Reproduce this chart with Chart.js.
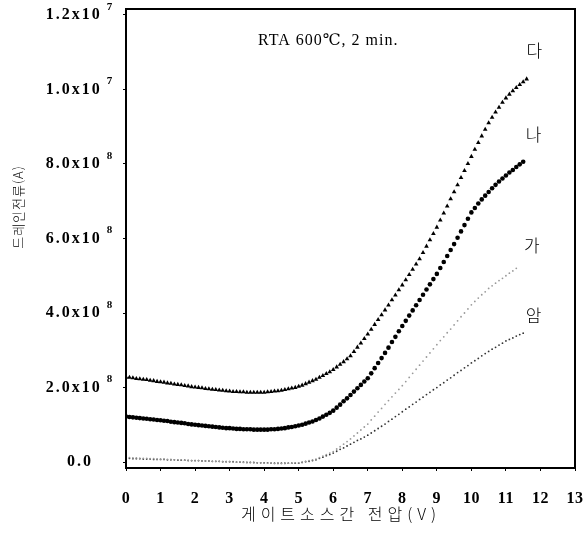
<!DOCTYPE html>
<html>
<head>
<meta charset="utf-8">
<script src="https://cdn.jsdelivr.net/npm/chart.js@4"></script>
<style>
html, body { margin: 0; padding: 0; background: #fff; }
</style>
</head>
<body>
<canvas id="drainChart" width="583" height="540"></canvas>
<script>
// gate-source voltage (V)
const gateVoltage = [
  0.0, 0.1, 0.2, 0.3, 0.4, 0.5, 0.6, 0.7, 0.8, 0.9,
  1.0, 1.1, 1.2, 1.3, 1.4, 1.5, 1.6, 1.7, 1.8, 1.9,
  2.0, 2.1, 2.2, 2.3, 2.4, 2.5, 2.6, 2.7, 2.8, 2.9,
  3.0, 3.1, 3.2, 3.3, 3.4, 3.5, 3.6, 3.7, 3.8, 3.9,
  4.0, 4.1, 4.2, 4.3, 4.4, 4.5, 4.6, 4.7, 4.8, 4.9,
  5.0, 5.1, 5.2, 5.3, 5.4, 5.5, 5.6, 5.7, 5.8, 5.9,
  6.0, 6.1, 6.2, 6.3, 6.4, 6.5, 6.6, 6.7, 6.8, 6.9,
  7.0, 7.1, 7.2, 7.3, 7.4, 7.5, 7.6, 7.7, 7.8, 7.9,
  8.0, 8.1, 8.2, 8.3, 8.4, 8.5, 8.6, 8.7, 8.8, 8.9,
  9.0, 9.1, 9.2, 9.3, 9.4, 9.5, 9.6, 9.7, 9.8, 9.9,
  10.0, 10.1, 10.2, 10.3, 10.4, 10.5, 10.6, 10.7, 10.8, 10.9,
  11.0, 11.1, 11.2, 11.3, 11.4, 11.5, 11.6
];

// drain current, units of 10^-8 A
const currentDa = [
  2.28, 2.27, 2.26, 2.24, 2.23, 2.22, 2.21, 2.19, 2.18, 2.16,
  2.15, 2.14, 2.12, 2.11, 2.09, 2.08, 2.07, 2.05, 2.04, 2.02,
  2.01, 2.00, 1.99, 1.97, 1.96, 1.95, 1.94, 1.93, 1.92, 1.91,
  1.90, 1.89, 1.89, 1.88, 1.88, 1.87, 1.87, 1.87, 1.87, 1.87,
  1.87, 1.88, 1.89, 1.90, 1.91, 1.92, 1.94, 1.96, 1.98, 2.00,
  2.03, 2.06, 2.10, 2.14, 2.18, 2.22, 2.27, 2.32, 2.37, 2.42,
  2.48, 2.55, 2.62, 2.69, 2.77, 2.85, 2.96, 3.08, 3.19, 3.31,
  3.43, 3.56, 3.69, 3.82, 3.95, 4.08, 4.21, 4.35, 4.48, 4.62,
  4.75, 4.89, 5.03, 5.17, 5.31, 5.45, 5.62, 5.79, 5.96, 6.13,
  6.30, 6.49, 6.68, 6.87, 7.06, 7.25, 7.44, 7.63, 7.82, 8.01,
  8.20, 8.39, 8.57, 8.75, 8.93, 9.10, 9.25, 9.39, 9.52, 9.65,
  9.77, 9.87, 9.96, 10.05, 10.13, 10.20, 10.28
];
const currentNa = [
  1.22, 1.21, 1.20, 1.19, 1.18, 1.17, 1.16, 1.15, 1.14, 1.13,
  1.12, 1.11, 1.10, 1.08, 1.07, 1.06, 1.05, 1.04, 1.02, 1.01,
  1.00, 0.99, 0.98, 0.97, 0.96, 0.95, 0.94, 0.93, 0.92, 0.91,
  0.91, 0.90, 0.89, 0.89, 0.88, 0.88, 0.88, 0.87, 0.87, 0.87,
  0.87, 0.87, 0.88, 0.88, 0.89, 0.90, 0.91, 0.93, 0.94, 0.96,
  0.98, 1.00, 1.03, 1.06, 1.09, 1.13, 1.17, 1.22, 1.27, 1.32,
  1.38, 1.46, 1.54, 1.63, 1.71, 1.80, 1.89, 1.98, 2.07, 2.16,
  2.25, 2.38, 2.52, 2.66, 2.79, 2.93, 3.07, 3.22, 3.36, 3.51,
  3.65, 3.79, 3.93, 4.07, 4.21, 4.35, 4.49, 4.63, 4.77, 4.91,
  5.05, 5.21, 5.37, 5.53, 5.69, 5.85, 6.02, 6.19, 6.36, 6.53,
  6.70, 6.82, 6.94, 7.05, 7.15, 7.25, 7.35, 7.44, 7.53, 7.61,
  7.69, 7.77, 7.84, 7.92, 7.99, 8.06
];
const currentGa = [
  0.12, 0.12, 0.11, 0.11, 0.10, 0.10, 0.10, 0.09, 0.09, 0.08,
  0.08, 0.08, 0.07, 0.07, 0.06, 0.06, 0.06, 0.05, 0.05, 0.04,
  0.04, 0.04, 0.03, 0.03, 0.03, 0.02, 0.02, 0.02, 0.01, 0.01,
  0.01, 0.00, 0.00, 0.00, -0.01, -0.01, -0.01, -0.02, -0.02, -0.02,
  -0.03, -0.03, -0.03, -0.04, -0.04, -0.04, -0.04, -0.03, -0.03, -0.02,
  -0.02, 0.00, 0.02, 0.04, 0.06, 0.08, 0.12, 0.16, 0.20, 0.24,
  0.28, 0.35, 0.41, 0.48, 0.55, 0.62, 0.70, 0.78, 0.86, 0.94,
  1.02, 1.13, 1.23, 1.34, 1.44, 1.55, 1.65, 1.75, 1.85, 1.95,
  2.05, 2.16, 2.27, 2.38, 2.49, 2.60, 2.71, 2.82, 2.93, 3.04,
  3.15, 3.26, 3.36, 3.47, 3.57, 3.68, 3.79, 3.90, 4.00, 4.11,
  4.22, 4.31, 4.40, 4.49, 4.57, 4.66, 4.73, 4.80, 4.87, 4.93,
  5.00, 5.07, 5.13, 5.20
];
const currentAm = [
  0.10, 0.10, 0.09, 0.09, 0.09, 0.08, 0.08, 0.08, 0.07, 0.07,
  0.07, 0.07, 0.06, 0.06, 0.06, 0.05, 0.05, 0.05, 0.04, 0.04,
  0.04, 0.04, 0.03, 0.03, 0.03, 0.02, 0.02, 0.02, 0.01, 0.01,
  0.01, 0.01, 0.00, 0.00, 0.00, -0.01, -0.01, -0.01, -0.02, -0.02,
  -0.02, -0.02, -0.03, -0.03, -0.03, -0.03, -0.03, -0.03, -0.03, -0.03,
  -0.03, -0.01, 0.01, 0.02, 0.04, 0.06, 0.10, 0.13, 0.17, 0.20,
  0.24, 0.29, 0.34, 0.38, 0.43, 0.48, 0.53, 0.58, 0.62, 0.67,
  0.72, 0.78, 0.84, 0.90, 0.96, 1.02, 1.09, 1.15, 1.22, 1.28,
  1.35, 1.42, 1.48, 1.55, 1.61, 1.68, 1.74, 1.81, 1.87, 1.94,
  2.00, 2.07, 2.13, 2.20, 2.26, 2.33, 2.40, 2.46, 2.53, 2.59,
  2.66, 2.72, 2.78, 2.85, 2.91, 2.97, 3.03, 3.08, 3.14, 3.19,
  3.25, 3.29, 3.33, 3.38, 3.42, 3.46
];

const seriesNames = ['다', '나', '가', '암'];
const yTickValues = [0, 2, 4, 6, 8, 10, 12];
const yTickLabels = ['0.0', '2.0x10', '4.0x10', '6.0x10', '8.0x10', '1.0x10', '1.2x10'];
const yTickExponents = ['', '8', '8', '8', '8', '7', '7'];
const noteText = 'RTA 600℃, 2 min.';
const xTitle = '게이트소스간 전압(V)';
const yTitle = '드레인전류(A)';

const serif = '"Liberation Serif", "DejaVu Serif", serif';
const hangul = '"Noto Sans CJK KR", sans-serif';

function toPoints(values) {
  return values.map((v, i) => ({ x: gateVoltage[i], y: v }));
}

// y tick labels (with raised exponent), curve names, note, axis titles, frame
const textPlugin = {
  id: 'textPlugin',
  beforeDraw(chart) { chart.ctx.letterSpacing = '0.5px'; },
  afterDraw(chart) {
    const ctx = chart.ctx;
    const xs = chart.scales.x, ys = chart.scales.y;
    const a = chart.chartArea;
    ctx.save();
    ctx.strokeStyle = '#000';
    ctx.lineWidth = 2;
    ctx.strokeRect(a.left, a.top, a.right - a.left, a.bottom - a.top);

    ctx.fillStyle = '#000';
    ctx.textBaseline = 'middle';
    ctx.textAlign = 'left';
    yTickValues.forEach((v, i) => {
      const y = ys.getPixelForValue(v);
      ctx.letterSpacing = '2px';
      ctx.font = 'bold 16px ' + serif;
      const wMain = ctx.measureText(yTickLabels[i]).width;
      ctx.font = 'bold 11px ' + serif;
      const wExp = yTickExponents[i] ? ctx.measureText(yTickExponents[i]).width + 5 : 0;
      const x0 = 80 - (wMain + wExp) / 2;
      ctx.font = 'bold 16px ' + serif;
      ctx.fillText(yTickLabels[i], x0, y);
      if (yTickExponents[i]) {
        ctx.font = 'bold 11px ' + serif;
        ctx.fillText(yTickExponents[i], x0 + wMain + 5, y - 8);
      }
    });

    ctx.letterSpacing = '1px';
    ctx.font = '16px ' + serif;
    ctx.fillText(noteText, xs.getPixelForValue(3.82), ys.getPixelForValue(11.3));

    ctx.letterSpacing = '0px';
    ctx.font = '300 17px ' + hangul;
    ctx.textAlign = 'center';
    const labelAt = [[11.82, 11.05], [11.8, 8.8], [11.75, 5.82], [11.8, 3.92]];
    seriesNames.forEach((n, i) => {
      ctx.fillText(n, xs.getPixelForValue(labelAt[i][0]), ys.getPixelForValue(labelAt[i][1]));
    });

    ctx.font = '300 16px ' + hangul;
    ctx.letterSpacing = '5px';
    ctx.fillText(xTitle, 341, 514);

    ctx.translate(18, 207);
    ctx.rotate(-Math.PI / 2);
    ctx.font = '300 13px ' + hangul;
    ctx.letterSpacing = '1px';
    ctx.fillText(yTitle, 0, 0);
    ctx.restore();
  }
};

const ctx = document.getElementById('drainChart').getContext('2d');
new Chart(ctx, {
  type: 'scatter',
  data: {
    datasets: [
      { label: seriesNames[0], data: toPoints(currentDa), pointStyle: 'triangle', pointRadius: 2.7,
        backgroundColor: '#000', borderColor: '#000', borderWidth: 0, showLine: false },
      { label: seriesNames[1], data: toPoints(currentNa), pointStyle: 'circle', pointRadius: 2.3,
        backgroundColor: '#000', borderColor: '#000', borderWidth: 0, showLine: false },
      { label: seriesNames[2], data: toPoints(currentGa), pointStyle: 'circle', pointRadius: 0.9,
        backgroundColor: '#9a9a9a', borderColor: '#9a9a9a', borderWidth: 0, showLine: false },
      { label: seriesNames[3], data: toPoints(currentAm), pointStyle: 'circle', pointRadius: 0.9,
        backgroundColor: '#333', borderColor: '#333', borderWidth: 0, showLine: false }
    ]
  },
  options: {
    responsive: false,
    animation: false,
    layout: { padding: { top: 9, right: 8, left: 0, bottom: 0 } },
    plugins: { legend: { display: false }, tooltip: { enabled: false } },
    scales: {
      x: {
        type: 'linear', min: 0, max: 13,
        afterFit: s => { s.height = 72; s.paddingLeft = 0; s.paddingRight = 0; },
        ticks: { stepSize: 1, color: '#000', padding: 18, font: { family: serif, size: 16, weight: 'bold' } },
        grid: { drawOnChartArea: false, tickLength: 3, color: '#000' },
        border: { color: '#000', width: 2 }
      },
      y: {
        min: -0.16, max: 12.16,
        afterFit: s => { s.width = 126; s.paddingTop = 0; s.paddingBottom = 0; },
        afterBuildTicks: s => { s.ticks = yTickValues.map(v => ({ value: v })); },
        ticks: { display: false },
        grid: { drawOnChartArea: false, tickLength: 3, color: '#000' },
        border: { color: '#000', width: 2 }
      }
    }
  },
  plugins: [textPlugin]
});
</script>
</body>
</html>
